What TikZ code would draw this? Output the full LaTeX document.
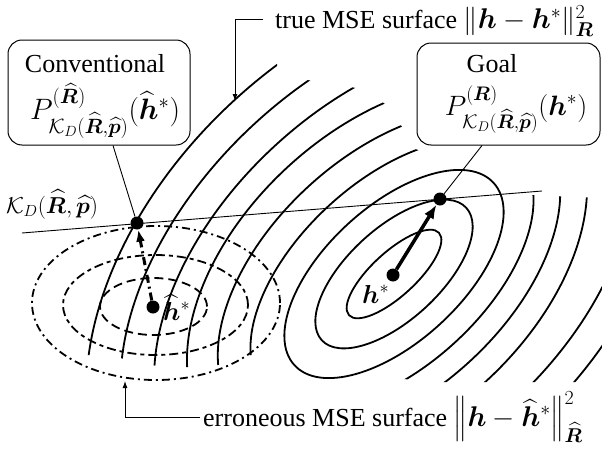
\RequirePackage{fix-cm}
\documentclass[tikz,border=0pt]{standalone}
\usepackage{amsmath}
\usepackage{bm}
\usepackage{fontspec}
\setmainfont{Liberation Serif}
\usetikzlibrary{arrows.meta,calc}
\newcommand{\bigmath}{\fontsize{28.5}{34}\selectfont}
\tikzset{
  contour/.style={line width=1.8pt},
  thinline/.style={line width=0.9pt},
  pointer/.style={thinline,-{Latex[length=7pt,width=5pt]}},
  dotnode/.style={circle,fill=black,inner sep=0pt,minimum size=13pt},
  boxnode/.style={draw,rounded corners=14pt,line width=1pt,inner sep=0pt},
  txt/.style={inner sep=0pt,font=\fontsize{26}{31}\selectfont},
  mathtxt/.style={inner sep=0pt,font=\bigmath},
  errline/.style={line width=1.8pt}
}
\begin{document}
\begin{tikzpicture}[x=1pt,y=-1pt]
\useasboundingbox (0,0) rectangle (602,450);

% erroneous MSE contours (dash-dotted)
\draw[errline,dash pattern=on 9pt off 5pt] (153.5,306.5) ellipse [x radius=53.5pt, y radius=28.5pt];
\draw[errline,dash pattern=on 9pt off 4pt on 4pt off 4pt] (155.5,305) ellipse [x radius=92.5pt, y radius=50pt];
\draw[errline,dash pattern=on 8pt off 4pt on 2pt off 4pt] (156,303) ellipse [x radius=124pt, y radius=77pt];

% true MSE contours: closed inner ones
\begin{scope}[shift={(394,274)},rotate=42.5]
  \draw[contour] (0,0) ellipse [x radius=61pt, y radius=22pt];
  \draw[contour] (0,0) ellipse [x radius=98pt, y radius=46pt];
  \draw[contour] (0,0) ellipse [x radius=135pt, y radius=68pt];
\end{scope}
% true MSE contours: clipped outer ones
\begin{scope}
  \clip (0,0) -- (272,0) -- (278,77) -- (325,82) -- (366,90) -- (389,107) -- (402,127) -- (413,148)
        -- (530,195) -- (602,198) -- (602,382) -- (485,382) -- (443,382) -- (403,379)
        -- (251,355) -- (218,365) -- (191,367) -- (162,367) -- (137,362) -- (108,355) -- (0,355) -- cycle;
  \foreach \cx/\a/\b in {392/172/93,389/205/119,387/236/146,394/283/175,394/320/205,394/357/236}
    \draw[contour,shift={(\cx,274)},rotate=42.5] (0,0) ellipse [x radius=\a pt, y radius=\b pt];
\end{scope}

% constraint line
\coordinate (lineL) at (22,233);
\coordinate (lineR) at (542,191);
\draw[thinline] (lineL) -- (lineR);

% points
\node[dotnode] (kd) at (137,223) {};
\node[dotnode] (goal) at (440,199) {};
\node[dotnode] (hs) at (393,275) {};
\node[dotnode] (hh) at (153,307) {};

\draw[line width=3.5pt,-{Latex[length=14pt,width=11pt]}] (hs) -- (goal);
\draw[line width=3pt,dash pattern=on 8pt off 4pt on 2pt off 4pt,-{Latex[length=12pt,width=9pt]}] (hh) -- (kd);

\node[txt,anchor=base west] (hslab) at (362,303) {$\bm h^*$};
\node[txt,anchor=base west] (hhlab) at (163,320) {$\widehat{\bm h}^*$};
\node[inner sep=0pt,font=\fontsize{23}{27}\selectfont,anchor=base west] (kdlab) at (6,213) {$\mathcal{K}_D(\widehat{\bm R},\widehat{\bm p})$};

% boxes
\node[boxnode,minimum width=182pt,minimum height=105pt] (conv) at (99,92.5) {};
\node[txt,anchor=base] (convt) at (95,72) {Conventional};
\node[inner sep=0pt,font=\fontsize{29.5}{35}\selectfont,anchor=base] (convm) at (105,119) {$P^{(\widehat{\bm R})}_{\mathcal{K}_D(\widehat{\bm R},\widehat{\bm p})}(\widehat{\bm h}^*)$};
\draw[thinline] ([xshift=14pt]conv.south) -- (kd);

\node[boxnode,minimum width=183pt,minimum height=102pt] (goalbox) at (508.5,94) {};
\node[txt,anchor=base] (goalt) at (492,72) {Goal};
\node[inner sep=0pt,font=\fontsize{28}{33}\selectfont,anchor=base] (goalm) at (516,115) {$P^{(\bm R)}_{\mathcal{K}_D(\widehat{\bm R},\widehat{\bm p})}(\bm h^*)$};
\draw[thinline] ([xshift=-26.5pt]goalbox.south) -- (goal);

% surface labels
\coordinate (ta) at (235,101);
\node[txt,anchor=west] (toplab) at (275,21) {true MSE surface {\bigmath$\|\bm h-\bm h^*\|^2_{\bm R}$}};
\draw[pointer] ([xshift=-12pt,yshift=2pt]toplab.west) -| (ta);

\coordinate (ba) at (125,381);
\node[txt,anchor=west] (botlab) at (203,417) {erroneous MSE surface {\bigmath$\left\|\bm h-\widehat{\bm h}^*\right\|^2_{\widehat{\bm R}}$}};
\draw[pointer] ([xshift=-3pt]botlab.west) -| (ba);
\end{tikzpicture}
\end{document}
